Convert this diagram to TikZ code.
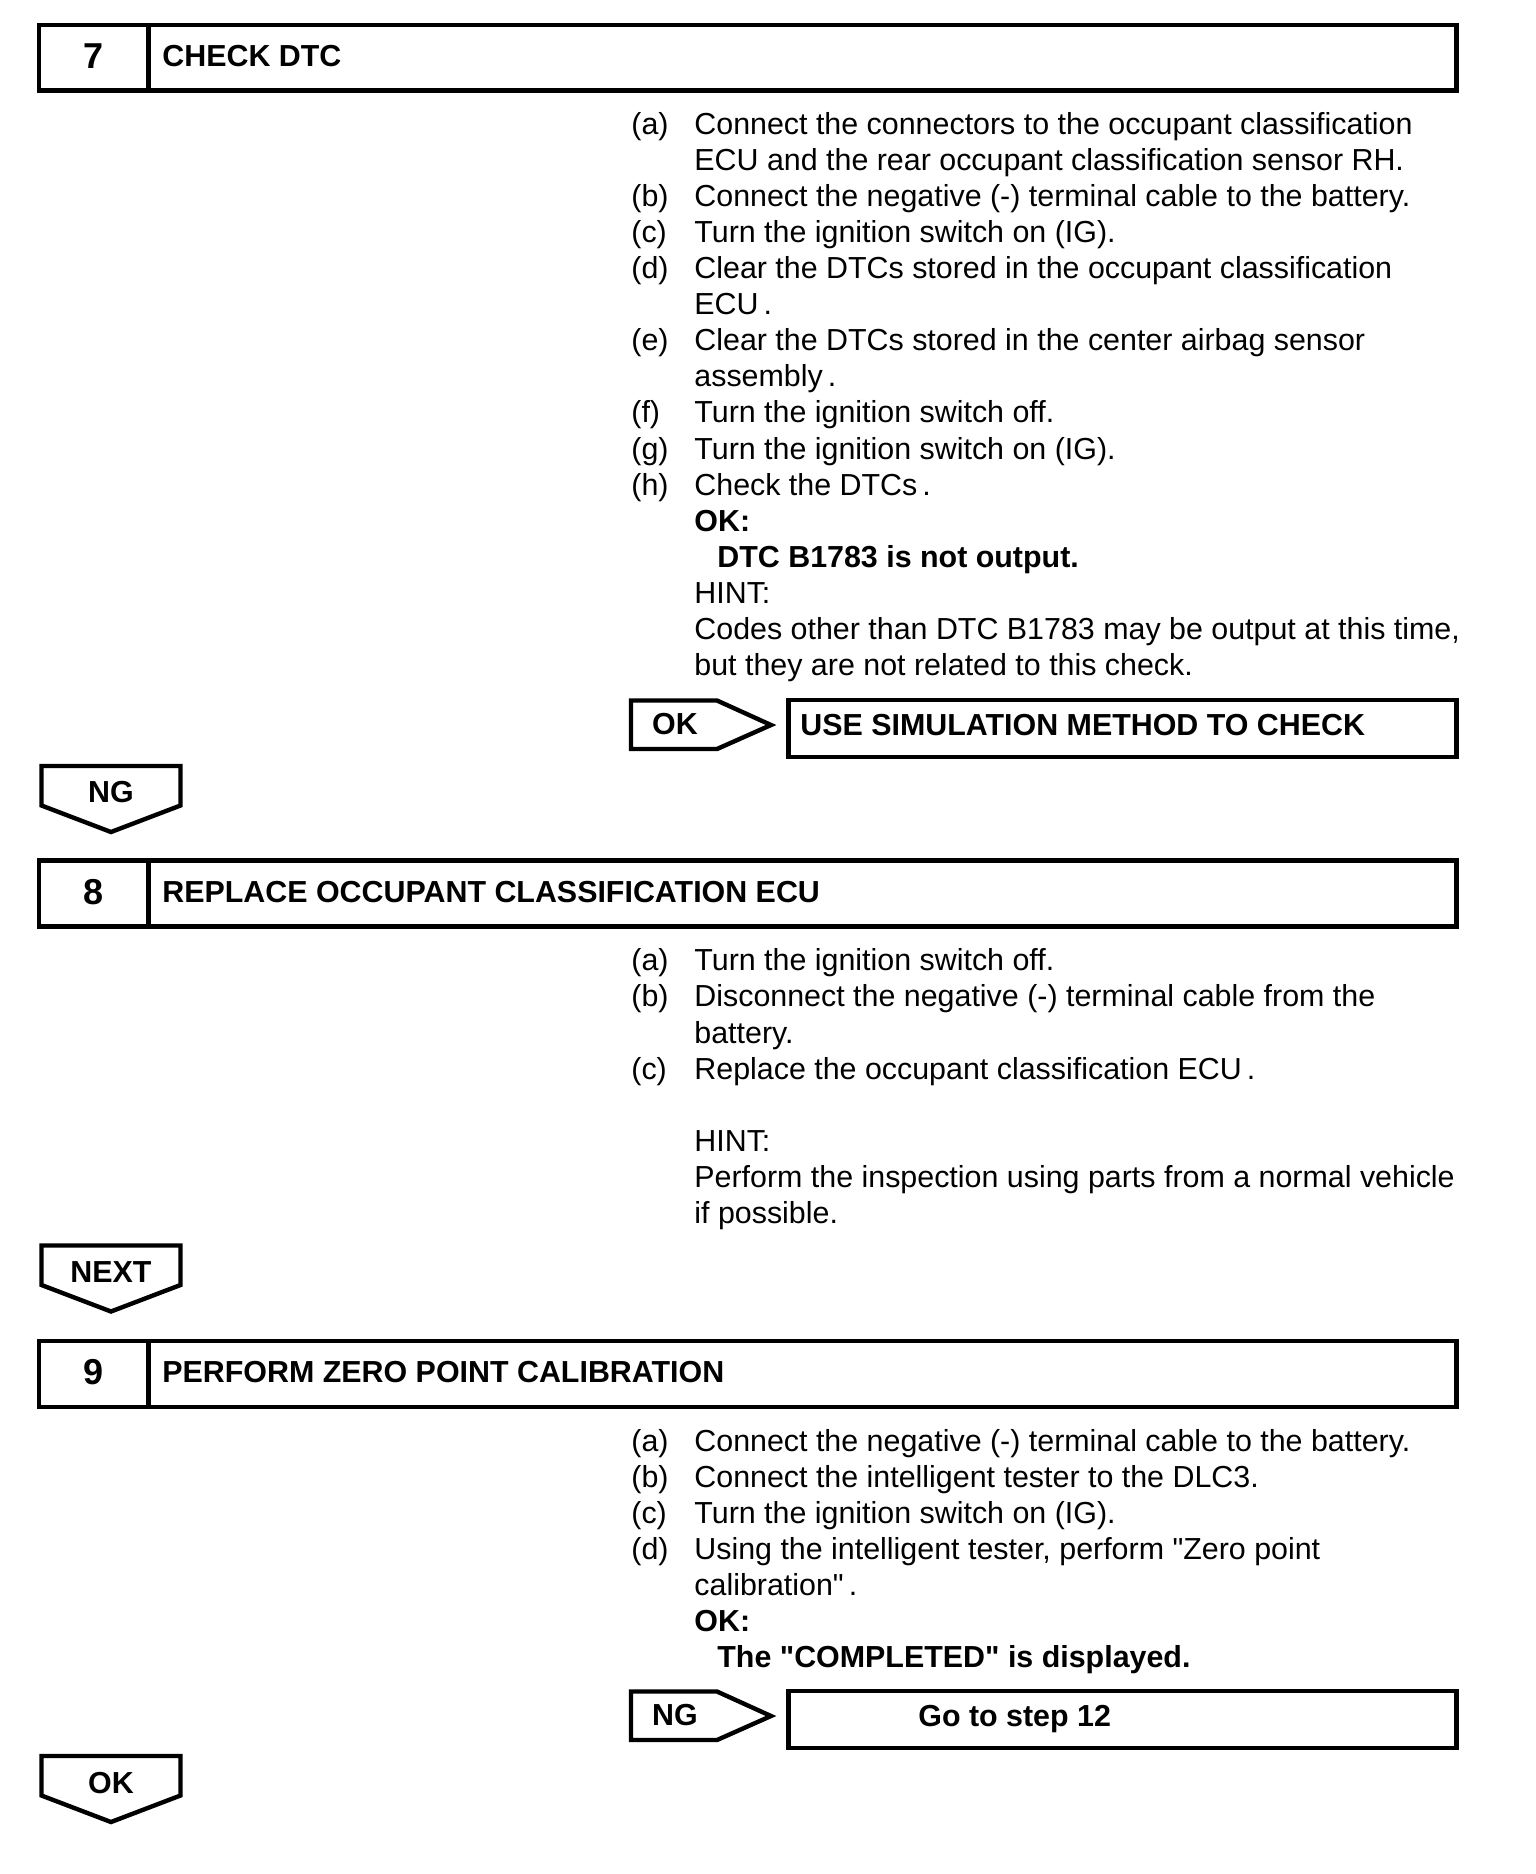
\documentclass[tikz,border=0pt]{standalone}
\usepackage{fontspec}
\setmainfont{Liberation Sans}[Ligatures=TeXOff]
\begin{document}
\begin{tikzpicture}[x=0.5pt,y=-0.5pt,
  frame/.style={line width=2.2pt, line join=miter},
  body/.style={inner sep=0pt, anchor=base west, font=\fontsize{15.2}{18}\selectfont},
  bbody/.style={inner sep=0pt, anchor=base west, font=\fontsize{15.2}{18}\selectfont\bfseries},
  head/.style={inner sep=0pt, anchor=base west, font=\fontsize{15.2}{18}\selectfont\bfseries},
  num/.style={inner sep=0pt, anchor=base, font=\fontsize{18}{22}\selectfont\bfseries},
  tag/.style={inner sep=0pt, anchor=base, font=\fontsize{15.2}{18}\selectfont\bfseries}]
\useasboundingbox (0,0) rectangle (1536,1874);
\fill[white] (0,0) rectangle (1536,1874);

% ---------- Step 7 ----------
\draw[frame] (39,25) rectangle (1456.5,90.5);
\draw[frame] (148.5,25) -- (148.5,90.5);
\node[num] (n7) at (94,68.5) {7};
\node[head] (h7) at (162,66.5) {CHECK DTC};

\node[body] (l7a) at (631,134.1) {(a)};
\node[body] (t7a) at (694,134.1) {Connect the connectors to the occupant classification};
\node[body] (t7a2) at (694,170.2) {ECU and the rear occupant classification sensor RH.};
\node[body] (l7b) at (631,206.3) {(b)};
\node[body] (t7b) at (694,206.3) {Connect the negative (-) terminal cable to the battery.};
\node[body] (l7c) at (631,242.4) {(c)};
\node[body] (t7c) at (694,242.4) {Turn the ignition switch on (IG).};
\node[body] (l7d) at (631,278.5) {(d)};
\node[body] (t7d) at (694,278.5) {Clear the DTCs stored in the occupant classification};
\node[body] (t7d2) at (694,314.6) {ECU\,.};
\node[body] (l7e) at (631,350.7) {(e)};
\node[body] (t7e) at (694,350.7) {Clear the DTCs stored in the center airbag sensor};
\node[body] (t7e2) at (694,386.8) {assembly\,.};
\node[body] (l7f) at (631,422.9) {(f)};
\node[body] (t7f) at (694,422.9) {Turn the ignition switch off.};
\node[body] (l7g) at (631,459.0) {(g)};
\node[body] (t7g) at (694,459.0) {Turn the ignition switch on (IG).};
\node[body] (l7h) at (631,495.1) {(h)};
\node[body] (t7h) at (694,495.1) {Check the DTCs\,.};
\node[bbody] (ok7) at (694,531.2) {OK:};
\node[bbody] (ok7t) at (717,567.3) {DTC B1783 is not output.};
\node[body] (hint7) at (694,603.4) {HINT:};
\node[body] (hint7a) at (694,639.5) {Codes other than DTC B1783 may be output at this time,};
\node[body] (hint7b) at (694,675.6) {but they are not related to this check.};

% OK -> result
\draw[frame] (631,700.5) -- (717,700.5) -- (771,725) -- (717,749) -- (631,749) -- cycle;
\node[tag] (okr7) at (675,734) {OK};
\draw[frame] (788.5,700) rectangle (1456.5,757);
\node[head] (res7) at (800,735) {USE SIMULATION METHOD TO CHECK};

% NG down arrow
\draw[frame] (41.5,766) -- (180.5,766) -- (180.5,805.5) -- (111,832) -- (41.5,805.5) -- cycle;
\node[tag] (ng7) at (111,802.5) {NG};

% ---------- Step 8 ----------
\draw[frame] (39,860.5) rectangle (1456.5,926.5);
\draw[frame] (148.5,860.5) -- (148.5,926.5);
\node[num] (n8) at (94,904) {8};
\node[head] (h8) at (162,902) {REPLACE OCCUPANT CLASSIFICATION ECU};

\node[body] (l8a) at (631,970.8) {(a)};
\node[body] (t8a) at (694,970.8) {Turn the ignition switch off.};
\node[body] (l8b) at (631,1006.9) {(b)};
\node[body] (t8b) at (694,1006.9) {Disconnect the negative (-) terminal cable from the};
\node[body] (t8b2) at (694,1043.0) {battery.};
\node[body] (l8c) at (631,1079.1) {(c)};
\node[body] (t8c) at (694,1079.1) {Replace the occupant classification ECU\,.};
\node[body] (hint8) at (694,1151.3) {HINT:};
\node[body] (hint8a) at (694,1187.4) {Perform the inspection using parts from a normal vehicle};
\node[body] (hint8b) at (694,1223.5) {if possible.};

% NEXT down arrow
\draw[frame] (41.5,1245.5) -- (180.5,1245.5) -- (180.5,1285) -- (111,1311.5) -- (41.5,1285) -- cycle;
\node[tag] (next8) at (111,1282) {NEXT};

% ---------- Step 9 ----------
\draw[frame] (39,1341) rectangle (1456.5,1407);
\draw[frame] (148.5,1341) -- (148.5,1407);
\node[num] (n9) at (94,1384.5) {9};
\node[head] (h9) at (162,1382.5) {PERFORM ZERO POINT CALIBRATION};

\node[body] (l9a) at (631,1451.3) {(a)};
\node[body] (t9a) at (694,1451.3) {Connect the negative (-) terminal cable to the battery.};
\node[body] (l9b) at (631,1487.4) {(b)};
\node[body] (t9b) at (694,1487.4) {Connect the intelligent tester to the DLC3.};
\node[body] (l9c) at (631,1523.5) {(c)};
\node[body] (t9c) at (694,1523.5) {Turn the ignition switch on (IG).};
\node[body] (l9d) at (631,1559.6) {(d)};
\node[body] (t9d) at (694,1559.6) {Using the intelligent tester, perform "Zero point};
\node[body] (t9d2) at (694,1595.7) {calibration"\,.};
\node[bbody] (ok9) at (694,1631.8) {OK:};
\node[bbody] (ok9t) at (717,1667.9) {The "COMPLETED" is displayed.};

% NG -> result
\draw[frame] (631,1691.5) -- (717,1691.5) -- (771,1716) -- (717,1740) -- (631,1740) -- cycle;
\node[tag] (ngr9) at (675,1725) {NG};
\draw[frame] (788.5,1691) rectangle (1456.5,1748);
\node[head] (res9) at (918,1726) {Go to step 12};

% OK down arrow
\draw[frame] (41.5,1756) -- (180.5,1756) -- (180.5,1795.5) -- (111,1822) -- (41.5,1795.5) -- cycle;
\node[tag] (ok9d) at (111,1793) {OK};
\end{tikzpicture}
\end{document}
